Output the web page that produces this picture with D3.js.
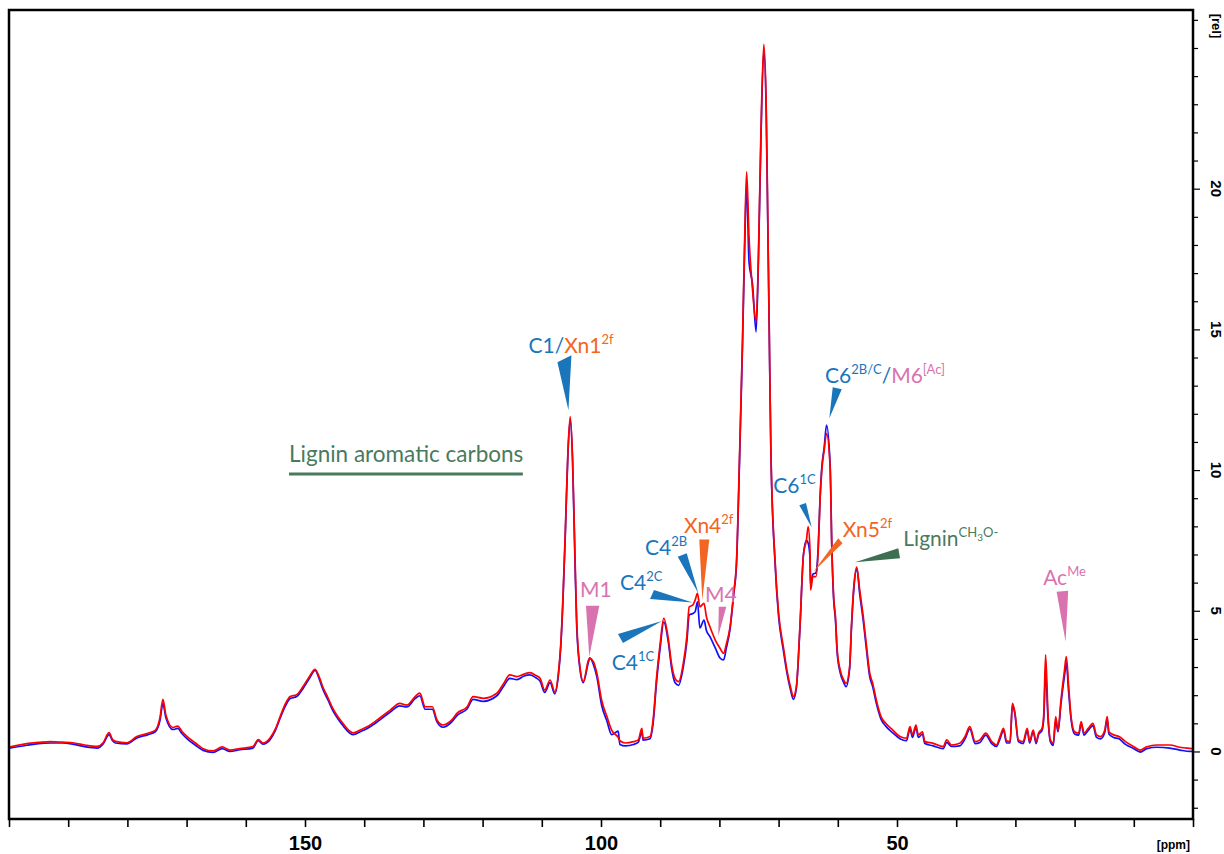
<!DOCTYPE html>
<html><head><meta charset="utf-8">
<script src="https://cdn.jsdelivr.net/npm/d3@7"></script>
<style>html,body{margin:0;padding:0;background:#fff;} svg{display:block;}</style>
</head><body>
<svg id="chart" width="1224" height="854"></svg>
<script>
// ---------- data ----------
const ppm = [200.0,199.0,197.0,195.0,193.0,191.0,189.0,187.0,185.1,184.1,183.1,182.5,182.0,180.1,178.4,176.5,175.3,174.5,174.0,173.5,172.3,171.5,170.8,169.9,168.5,167.2,165.5,164.0,162.7,161.0,158.8,157.9,157.1,155.9,155.0,154.2,153.3,152.5,151.4,150.3,149.3,148.3,147.6,147.0,146.1,145.3,144.5,143.6,142.4,141.9,140.5,139.5,137.8,135.6,134.0,132.8,131.4,130.6,129.7,128.5,127.7,126.7,125.2,124.3,122.6,121.6,119.9,117.6,116.5,115.4,114.2,113.0,112.0,111.0,110.3,109.5,108.6,107.8,107.2,106.8,106.4,106.0,105.6,105.2,104.8,104.4,104.1,103.5,103.0,102.1,101.9,101.3,100.7,99.9,99.0,98.2,97.1,96.8,95.9,94.5,93.7,93.1,92.9,91.7,91.2,90.6,90.0,89.4,88.6,88.1,87.5,86.9,86.1,85.5,85.1,84.5,84.1,83.7,83.3,82.6,82.2,81.6,80.7,79.9,79.3,78.8,78.2,77.6,77.1,76.6,76.1,75.7,75.4,75.0,74.4,73.8,73.4,73.0,72.5,72.1,71.9,71.6,71.3,70.6,70.0,69.2,68.6,68.0,67.5,67.0,66.4,65.8,65.3,65.0,64.7,64.6,64.2,63.7,63.3,63.0,62.7,62.3,61.9,61.3,61.0,60.7,60.4,60.1,59.6,59.0,58.6,58.0,57.7,57.3,56.8,56.3,55.7,55.2,54.6,54.1,53.5,52.7,51.9,50.7,49.5,48.4,47.8,47.4,46.8,46.4,45.7,45.3,43.9,42.2,41.6,40.8,39.4,38.5,37.7,36.8,36.0,35.0,34.0,33.2,32.6,32.0,31.5,30.9,30.5,30.1,29.5,28.7,28.0,27.6,27.0,26.5,26.1,25.5,25.2,24.9,24.5,24.1,23.6,23.2,22.8,22.3,21.7,21.4,21.0,20.6,20.0,19.3,18.9,18.4,17.7,16.9,16.3,15.6,14.9,14.5,14.2,13.4,12.5,11.4,10.0,8.9,7.8,6.1,3.9,2.2,0.5,0.0];
const redSpectrum = [0.15,0.2,0.28,0.32,0.35,0.33,0.3,0.22,0.18,0.31,0.67,0.42,0.36,0.31,0.53,0.65,0.75,1.2,1.85,1.3,0.85,0.9,0.72,0.53,0.3,0.1,0.02,0.16,0.05,0.1,0.17,0.42,0.3,0.48,0.8,1.24,1.7,1.95,2.02,2.32,2.65,2.92,2.65,2.3,1.9,1.53,1.25,1.0,0.72,0.66,0.78,0.88,1.12,1.47,1.71,1.65,1.95,2.07,1.59,1.59,1.12,0.94,1.12,1.36,1.59,1.95,1.89,2.07,2.4,2.72,2.66,2.75,2.8,2.7,2.6,2.18,2.54,2.12,2.78,3.8,5.6,8.0,10.6,11.9,10.4,7.0,4.6,2.9,2.48,3.25,3.31,3.19,2.78,1.83,1.24,0.76,0.5,0.38,0.3,0.35,0.41,0.82,0.47,0.53,1.12,2.66,3.84,4.73,3.96,3.13,2.6,2.48,3.13,4.08,5.14,5.2,5.38,5.62,5.14,5.26,4.79,4.43,3.96,3.67,3.49,3.84,4.43,5.62,6.8,10.5,14.6,18.5,20.6,18.3,16.4,15.27,17.7,21.84,25.13,23.0,20.06,15.33,10.7,6.8,4.91,3.72,2.9,2.3,1.95,2.3,4.43,7.0,7.51,7.99,7.16,5.74,6.21,6.21,7.16,8.93,10.0,10.71,11.3,10.12,7.16,5.5,4.79,3.6,2.9,2.54,2.42,3.01,4.43,5.85,6.55,5.74,4.79,3.84,2.78,2.42,1.83,1.24,1.0,0.76,0.53,0.47,0.88,0.59,0.94,0.59,0.7,0.35,0.29,0.17,0.41,0.23,0.29,0.53,0.88,0.35,0.41,0.65,0.35,0.23,0.53,0.82,0.38,0.35,1.71,1.41,0.41,0.35,0.82,0.35,0.76,0.35,0.65,0.82,1.36,3.43,1.36,0.41,0.29,1.24,0.76,1.83,2.9,3.37,2.3,1.24,0.7,0.65,1.06,0.65,0.82,1.0,0.59,0.53,0.76,1.24,0.7,0.59,0.53,0.35,0.17,0.05,0.17,0.23,0.23,0.15,0.11,0.1];
const blueSpectrum = [0.12,0.15,0.22,0.28,0.3,0.3,0.25,0.16,0.12,0.27,0.6,0.38,0.3,0.27,0.48,0.6,0.7,1.1,1.7,1.2,0.78,0.82,0.64,0.45,0.22,0.04,-0.03,0.1,0.0,0.06,0.12,0.38,0.26,0.42,0.75,1.18,1.62,1.88,1.95,2.25,2.58,2.88,2.58,2.22,1.82,1.45,1.18,0.92,0.65,0.6,0.72,0.82,1.05,1.4,1.62,1.58,1.88,1.98,1.5,1.5,1.05,0.86,1.05,1.28,1.52,1.85,1.78,1.98,2.3,2.6,2.55,2.68,2.72,2.62,2.5,2.1,2.45,2.05,2.7,3.7,5.5,7.9,10.5,11.8,10.3,6.8,4.43,2.85,2.45,3.2,3.33,3.1,2.65,1.65,1.08,0.6,0.72,0.25,0.2,0.25,0.33,0.7,0.4,0.45,1.0,2.5,3.7,4.6,3.85,3.0,2.45,2.35,3.0,3.9,4.85,4.9,4.97,5.32,4.39,4.67,4.3,4.08,3.68,3.32,3.25,3.7,4.35,5.55,6.7,10.3,14.4,18.2,20.18,17.4,16.6,14.91,17.5,21.6,24.9,22.8,19.9,15.2,10.6,6.7,4.8,3.6,2.8,2.2,1.85,2.25,4.35,7.0,7.5,7.4,6.9,5.9,6.3,6.35,7.3,9.0,10.1,10.8,11.6,10.2,7.2,5.4,4.7,3.5,2.8,2.45,2.3,2.95,4.35,5.75,6.5,5.6,4.65,3.7,2.65,2.3,1.72,1.15,0.9,0.66,0.45,0.38,0.8,0.5,0.85,0.5,0.62,0.28,0.2,0.1,0.32,0.18,0.2,0.45,0.8,0.28,0.32,0.58,0.28,0.18,0.45,0.75,0.3,0.3,1.65,1.35,0.35,0.28,0.75,0.3,0.7,0.28,0.6,0.75,1.2,2.9,1.2,0.35,0.22,1.1,0.7,1.7,2.7,3.14,2.1,1.15,0.62,0.58,1.0,0.58,0.75,0.92,0.5,0.45,0.68,1.15,0.62,0.5,0.45,0.25,0.1,-0.02,0.1,0.15,0.12,0.05,0.0,0.0];
const xTickValues = [200,190,180,170,160,150,140,130,120,110,100,90,80,70,60,50,40,30,20,10,0];
const xTickLabels = [150,100,50];
const yTickValues = [-2,-1,0,1,2,3,4,5,6,7,8,9,10,11,12,13,14,15,16,17,18,19,20,21,22,23,24,25,26];
const yTickLabels = [0,5,10,15,20];

// ---------- styles / layout ----------
const BLUE = "#1b75bb", ORANGE = "#f26522", PINK = "#d873b0", GREEN = "#4a7a5e", GREEN_W = "#3f6f53";
const svg = d3.select("#chart");
const x = d3.scaleLinear().domain([200, 0]).range([9, 1193]);
const y = d3.scaleLinear().domain([-2.4, 26.35]).range([819, 10]);

svg.append("defs").append("clipPath").attr("id","clip")
  .append("rect").attr("x",9).attr("y",10).attr("width",1184).attr("height",809);

const series = [
  {name:"blue", values: blueSpectrum, color:"#1010ff"},
  {name:"red", values: redSpectrum, color:"#ff0000"}
];
const line = d3.line().x(d => x(d[0])).y(d => y(d[1])).curve(d3.curveMonotoneX);
const plot = svg.append("g").attr("clip-path","url(#clip)");
series.forEach(s => {
  plot.append("path")
    .datum(ppm.map((p,i) => [p, s.values[i]]))
    .attr("fill","none").attr("stroke", s.color).attr("stroke-width",1.7)
    .attr("stroke-linejoin","round").attr("d", line);
});

// frame
svg.append("rect").attr("x",9).attr("y",10).attr("width",1184).attr("height",809)
  .attr("fill","none").attr("stroke","#000").attr("stroke-width",2.5);

// bottom axis
const ax = svg.append("g").attr("transform","translate(0,819)")
  .call(d3.axisBottom(x).tickValues(xTickValues).tickSize(8).tickPadding(9)
    .tickFormat(d => xTickLabels.includes(d) ? d : ""));
ax.select(".domain").remove();
ax.selectAll(".tick line").attr("stroke","#000").attr("stroke-width",1.6);
ax.selectAll(".tick text").attr("fill","#000")
  .style("font-family","'Liberation Sans', Arial, sans-serif").style("font-size","20px").style("font-weight","bold");
svg.append("text").attr("x",1190).attr("y",849).attr("text-anchor","end")
  .style("font-family","'Liberation Sans', Arial, sans-serif").style("font-size","12px").style("font-weight","bold")
  .text("[ppm]");

// right axis
const ay = svg.append("g").attr("transform","translate(1193,0)")
  .call(d3.axisRight(y).tickValues(yTickValues).tickSize(5).tickFormat(""));
ay.select(".domain").remove();
ay.selectAll(".tick line").attr("stroke","#000").attr("stroke-width",1.2)
  .attr("x2", d => yTickLabels.includes(d) ? 7 : 5);
yTickLabels.forEach(v => {
  svg.append("text").attr("x",1216).attr("y",y(v))
    .attr("transform",`rotate(90,1216,${y(v)})`)
    .attr("text-anchor","middle").attr("dominant-baseline","central")
    .style("font-family","'Liberation Sans', Arial, sans-serif").style("font-size","15px").style("font-weight","bold")
    .text(v);
});
svg.append("text").attr("x",1216).attr("y",26)
  .attr("transform","rotate(90,1216,26)")
  .attr("text-anchor","middle").attr("dominant-baseline","central")
  .style("font-family","'Liberation Sans', Arial, sans-serif").style("font-size","13px").style("font-weight","bold")
  .text("[rel]");

// ---------- annotations ----------
const annotations = [
  {tip:[105.5,12.13], base:[[-11,-48],[3,-55]], color:BLUE, label:[-40,-57], parts:[["C1/",BLUE],["Xn1",ORANGE],["2f",ORANGE,"sup"]]},
  {tip:[101.98,3.37], base:[[-3.3,-51],[10,-51]], color:PINK, label:[-9.3,-60], parts:[["M1",PINK]]},
  {tip:[84.54,5.29], base:[[-42.5,-3.5],[-38.5,-12.5]], color:BLUE, label:[-72.5,-12.5], parts:[["C4",BLUE],["2C",BLUE,"sup"]]},
  {tip:[89.7,4.64], base:[[-44,13],[-39,22]], color:BLUE, label:[-50.3,49], parts:[["C4",BLUE],["1C",BLUE,"sup"]]},
  {tip:[83.56,5.62], base:[[-20.6,-36.6],[-11.6,-40]], color:BLUE, label:[-53.3,-38.3], parts:[["C4",BLUE],["2B",BLUE,"sup"]]},
  {tip:[82.89,5.38], base:[[-3,-60.7],[7,-60.7]], color:ORANGE, label:[-18.3,-66.7], parts:[["Xn4",ORANGE],["2f",ORANGE,"sup"]]},
  {tip:[80.19,4.10], base:[[0.5,-29.3],[8,-29.3]], color:PINK, label:[-13.3,-34], parts:[["M4",PINK]]},
  {tip:[61.43,11.84], base:[[3.4,-31],[12.4,-29]], color:BLUE, label:[-4.3,-35], parts:[["C6",BLUE],["2B/C",BLUE,"sup"],["/",BLUE],["M6",PINK],["[Ac]",PINK,"sup"]]},
  {tip:[64.41,7.96], base:[[-12.4,-22.3],[-5.7,-24.6]], color:BLUE, label:[-38.4,-34], parts:[["C6",BLUE],["1C",BLUE,"sup"]]},
  {tip:[64.14,6.39], base:[[25,-33.4],[29.2,-28.4]], color:ORANGE, label:[29.4,-35], parts:[["Xn5",ORANGE],["2f",ORANGE,"sup"]]},
  {tip:[57.09,6.72], base:[[43.3,-14],[45,-4]], color:GREEN_W, label:[48.3,-16.3], parts:[["Lignin",GREEN],["CH",GREEN,"sup"],["3",GREEN,"subsup"],["O-",GREEN,"sup"]]},
  {tip:[21.52,3.90], base:[[-9,-50],[2.6,-51]], color:PINK, label:[-22.4,-56.7], parts:[["Ac",PINK],["Me",PINK,"sup"]]}
];
const LABEL_FONT = "'Lato', 'Open Sans', sans-serif";
const ann = svg.append("g");
function drawLabel(x0, y0, parts, size) {
  const t = ann.append("text").attr("x", x0).attr("y", y0)
    .style("font-family", LABEL_FONT).style("font-size", size + "px");
  let shift = 0;
  parts.forEach(([s, c, kind]) => {
    const target = kind === "sup" ? -9 : kind === "subsup" ? -5 : 0;
    const ts = t.append("tspan").text(s).attr("fill", c).attr("dy", target - shift);
    shift = target;
    if (kind === "sup") ts.style("font-size", "13px");
    if (kind === "subsup") ts.style("font-size", "10px");
  });
}
annotations.forEach(a => {
  const tx = x(a.tip[0]), ty = y(a.tip[1]);
  const pts = [[tx, ty], [tx + a.base[0][0], ty + a.base[0][1]], [tx + a.base[1][0], ty + a.base[1][1]]];
  ann.append("path").attr("d", "M" + pts.map(p => p.join(",")).join("L") + "Z").attr("fill", a.color);
  drawLabel(tx + a.label[0], ty + a.label[1], a.parts, 21);
});

// lignin aromatic carbons bracket
const aromaticRange = [152.7, 113.2], aromaticLevel = 9.86;
ann.append("line").attr("x1", x(aromaticRange[0])).attr("x2", x(aromaticRange[1]))
  .attr("y1", y(aromaticLevel)).attr("y2", y(aromaticLevel))
  .attr("stroke", GREEN).attr("stroke-width", 3);
ann.append("text").attr("x", x(aromaticRange[0])).attr("y", y(aromaticLevel) - 12)
  .attr("fill", GREEN).style("font-family", LABEL_FONT).style("font-size", "22.5px")
  .text("Lignin aromatic carbons");
</script>
</body></html>
